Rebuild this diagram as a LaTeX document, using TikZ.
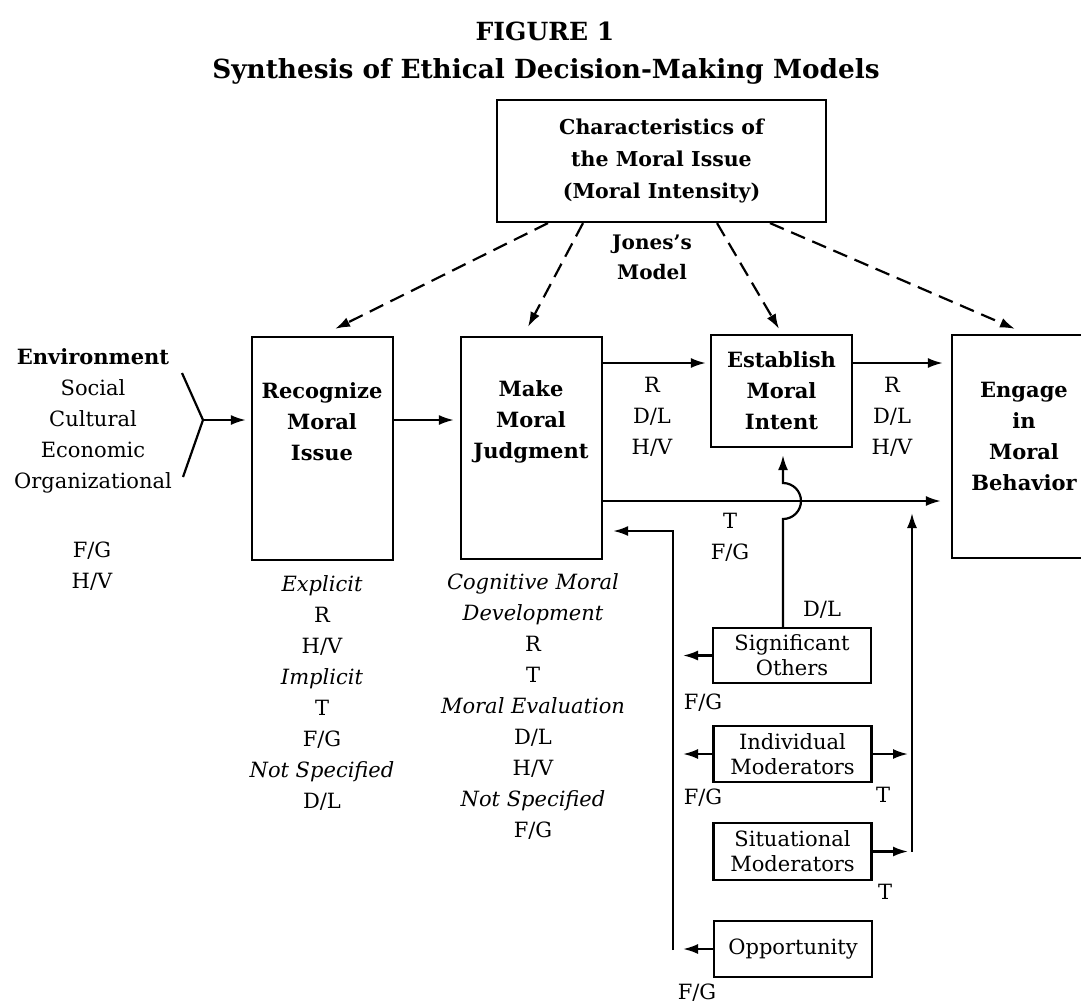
\documentclass[tikz,border=0pt]{standalone}
\usepackage{fontspec}
\setmainfont{DejaVu Serif}
\usetikzlibrary{calc,arrows.meta}

\begin{document}
\begin{tikzpicture}[x=1pt,y=-1pt,line width=2.2pt,font=\fontsize{21}{31}\selectfont]
% Styles: boxes, arrows, labels
\tikzstyle{box}=[draw,rectangle,inner sep=0,align=center];
\tikzstyle{arr}=[-{Latex[length=15pt,width=10pt]}];
\tikzstyle{dash arr}=[arr,dash pattern=on 15pt off 8pt];
\tikzstyle{lab}=[align=center,inner sep=0];
\tikzstyle{hd}=[lab,font=\fontsize{21}{31}\selectfont\bfseries];
\tikzstyle{small box}=[box,minimum width=158,font=\fontsize{21}{25}\selectfont];
\useasboundingbox (0,0) rectangle (1081,1005);
% Title
\node[anchor=base,font=\fontsize{25}{30}\selectfont\bfseries] (fig) at (545,40) {FIGURE 1};
\node[anchor=base,font=\fontsize{26.3}{30}\selectfont\bfseries] (syn) at (546,78) {Synthesis of Ethical Decision-Making Models};
% The boxes
\node[box,minimum width=329,minimum height=122,font=\fontsize{20.5}{32}\selectfont\bfseries] (top) at (661.5,161) {Characteristics of\\the Moral Issue\\(Moral Intensity)};
\node[box,minimum width=141,minimum height=223] (rec) at (322.5,448.5) {};
\node[hd] (recT) at (322,422) {Recognize\\Moral\\Issue};
\node[box,minimum width=141,minimum height=222] (mak) at (531.5,448) {};
\node[hd] (makT) at (531,422) {Make\\Moral\\Judgment};
\node[box,minimum width=141,minimum height=112,font=\fontsize{21}{31}\selectfont\bfseries] (est) at (781.5,391) {Establish\\Moral\\Intent};
\node[box,minimum width=144,minimum height=223] (eng) at (1024,446.5) {};
\node[hd] (engT) at (1024,436) {Engage\\in\\Moral\\Behavior};
\node[small box,minimum height=55] (sig) at (792,655.5) {Significant\\Others};
\node[small box,minimum height=56] (ind) at (792.5,754) {Individual\\Moderators};
\node[small box,minimum height=57] (sit) at (792.5,851.5) {Situational\\Moderators};
\node[small box,minimum height=56] (opp) at (793,949) {Opportunity};
% Environment
\node[lab] (env) at (93,421) {\textbf{Environment}\\Social\\Cultural\\Economic\\Organizational};
\coordinate (fkA) at (182,373);
\coordinate (fk) at (203,420);
\coordinate (fkB) at (183,477);
\draw (fkA) -- (fk) -- (fkB);
\draw[arr] (fk) -- ($(rec.west |- fk)+(-5,0)$);
% Main arrows
\coordinate (rR) at (0,363);
\coordinate (rT) at (0,501);
\draw[arr] (rec.east |- fk) -- ($(mak.west |- fk)+(-6,0)$);
\draw[arr] (mak.east |- rR) -- ($(est.west |- rR)+(-4,0)$);
\draw[arr] (est.east |- rR) -- ($(eng.west |- rR)+(-8,0)$);
\draw[arr] (mak.east |- rT) -- ($(eng.west |- rT)+(-10,0)$);
% Jones's model
\node[hd,font=\fontsize{20}{30}\selectfont\bfseries] (jones) at (652,257) {Jones’s\\Model};
\draw[dash arr] ($(top.south)+(-113.5,0)$) -- ($(rec.north)+(12.5,-7)$);
\draw[dash arr] ($(top.south)+(-78.5,0)$) -- ($(mak.north)+(-3.5,-9)$);
\draw[dash arr] ($(top.south)+(55.5,0)$) -- ($(est.north)+(-2.5,-5)$);
\draw[dash arr] ($(top.south)+(108.5,0)$) -- ($(eng.north)+(-9,-5)$);
% Significant others to intent, hopping over
\coordinate (hs) at ($(sig.north)+(-9,0)$);
\draw[arr] (hs) -- ($(hs |- rT)+(0,18)$) arc[start angle=90,end angle=-90,radius=18] -- ($(est.south -| hs)+(0,7)$);
% Feedback to judgment
\coordinate (fb) at (673,950);
\coordinate (fbT) at (673,531);
\draw[arr] (fb) -- (fbT) -- ($(mak.east |- fbT)+(10,0)$);
\foreach \b in {sig,ind,opp}
\draw[arr] (\b.west) -- ($(\b.west -| fb)+(10,0)$);
% Moderators to behavior
\coordinate (fr) at (912,849);
\foreach \b in {ind,sit}
\draw[arr] (\b.east) -- ($(\b.east -| fr)+(-4,0)$);
\draw[arr] (sit.east -| fr) -- ($(rT -| fr)+(0,12)$);
% Labels
\node[lab] (envL) at (92,566) {F/G\\H/V};
\node[lab] (recL) at (322,693) {\textit{Explicit}\\R\\H/V\\\textit{Implicit}\\T\\F/G\\\textit{Not Specified}\\D/L};
\node[lab] (makL) at (533,706) {\textit{Cognitive Moral}\\\textit{Development}\\R\\T\\\textit{Moral Evaluation}\\D/L\\H/V\\\textit{Not Specified}\\F/G};
\node[lab] (rdh1) at (652,417) {R\\D/L\\H/V};
\node[lab] (rdh2) at (892,417) {R\\D/L\\H/V};
\node[lab] (tfg) at (730,537) {T\\F/G};
\node[lab] (dl) at (822,610) {D/L};
\node[lab] (fg1) at (703,703) {F/G};
\node[lab] (fg2) at (703,798) {F/G};
\node[lab] (fg3) at (697,993) {F/G};
\node[lab] (t1) at (883,795) {T};
\node[lab] (t2) at (885,892) {T};
\end{tikzpicture}
\end{document}
